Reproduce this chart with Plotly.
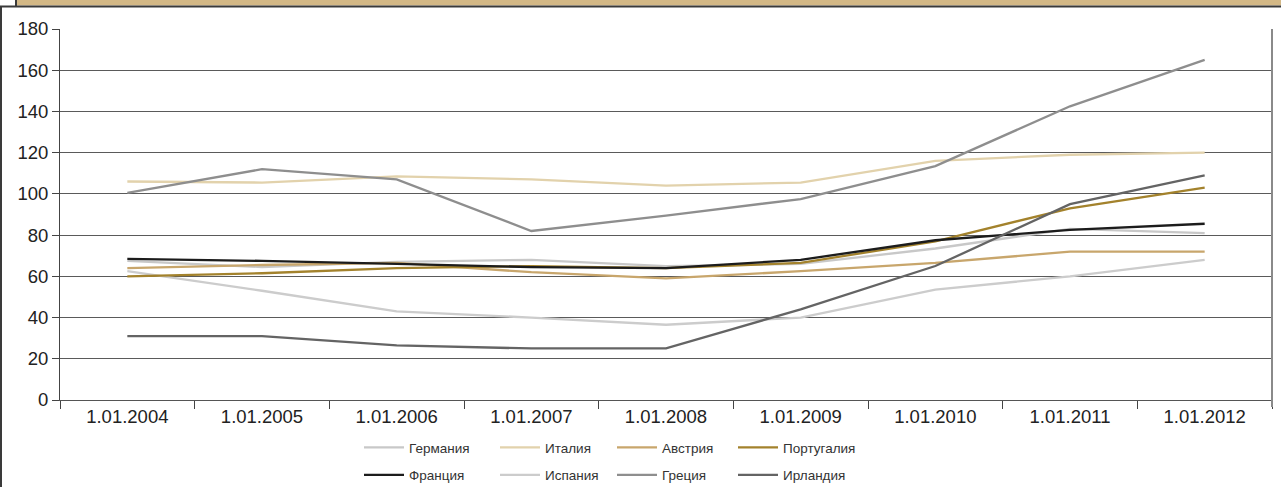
import plotly.graph_objects as go

# Dates on the category axis
dates = ["1.01.2004", "1.01.2005", "1.01.2006", "1.01.2007", "1.01.2008",
         "1.01.2009", "1.01.2010", "1.01.2011", "1.01.2012"]

# Government debt, % of GDP
germany = [67.5, 64.5, 67, 68, 65, 66, 73.5, 83, 81]
italy = [106, 105.5, 108.5, 107, 104, 105.5, 116, 119, 120]
austria = [64, 65.5, 66.5, 62, 59, 62.5, 66.5, 72, 72]
portugal = [60, 61.5, 64, 65, 64, 66.5, 77, 93, 103]
france = [68.5, 67.5, 66, 64.5, 64, 68, 77.5, 82.5, 85.5]
spain = [62.5, 53, 43, 40, 36.5, 40, 53.5, 60, 68]
greece = [100.5, 112, 107, 82, 89.5, 97.5, 113.5, 142.5, 165]
ireland = [31, 31, 26.5, 25, 25, 44, 65, 95, 109]

y_ticks = [0, 20, 40, 60, 80, 100, 120, 140, 160, 180]

# name, values, colour, legend column
series = [
    ("Германия", germany, "#c8c8c8", "legend"),
    ("Франция", france, "#1c1c1c", "legend"),
    ("Италия", italy, "#e2d2ac", "legend2"),
    ("Испания", spain, "#cccccc", "legend2"),
    ("Австрия", austria, "#c8a66c", "legend3"),
    ("Греция", greece, "#8e8e8e", "legend3"),
    ("Португалия", portugal, "#a3822c", "legend4"),
    ("Ирландия", ireland, "#646464", "legend4"),
]

# draw order: background series first, dark ones on top
draw_order = ["Испания", "Германия", "Италия", "Австрия", "Греция",
              "Португалия", "Франция", "Ирландия"]

fig = go.Figure()
lookup = {s[0]: s for s in series}
names = [s[0] for s in series]
for name in draw_order:
    _, vals, color, leg = lookup[name]
    fig.add_trace(go.Scatter(
        x=dates, y=vals, name=name, mode="lines",
        line=dict(color=color, width=2.3),
        legend=leg, legendgroup=name,
        legendrank=names.index(name),
    ))

W, H = 1281, 487
ML, MR, MT, MB = 60, 9, 29, 87
PW, PH = W - ML - MR, H - MT - MB


def px_x(px):
    return (px - ML) / PW


def px_y(py):
    return 1 - (py - MT) / PH


legend_common = dict(
    orientation="v", yanchor="top", xanchor="left",
    y=px_y(432), traceorder="grouped", tracegroupgap=7,
    font=dict(family="Liberation Sans, Arial, sans-serif", size=13.5, color="#333333"),
    bgcolor="rgba(0,0,0,0)", itemwidth=40,
)

shapes = [
    # tan header band
    dict(type="rect", xref="paper", yref="paper",
         x0=px_x(16), x1=px_x(1290), y0=px_y(-5), y1=px_y(5.5),
         fillcolor="#d3b886", line=dict(width=0), layer="below"),
    dict(type="line", xref="paper", yref="paper",
         x0=px_x(16), x1=px_x(16), y0=px_y(-5), y1=px_y(6),
         line=dict(color="#3a3a3a", width=2)),
    # frame top and left edges
    dict(type="line", xref="paper", yref="paper",
         x0=px_x(0), x1=px_x(1290), y0=px_y(6.5), y1=px_y(6.5),
         line=dict(color="#3a3a3a", width=2)),
    dict(type="line", xref="paper", yref="paper",
         x0=px_x(1), x1=px_x(1), y0=px_y(6), y1=px_y(495),
         line=dict(color="#3a3a3a", width=2)),
    # right edge of plot area
    dict(type="line", xref="paper", yref="paper",
         x0=1, x1=1, y0=px_y(407), y1=1,
         line=dict(color="#8a8a8a", width=2)),
]

fig.update_layout(
    width=W, height=H,
    margin=dict(l=ML, r=MR, t=MT, b=MB, pad=0, autoexpand=False),
    paper_bgcolor="white", plot_bgcolor="white",
    font=dict(family="Liberation Sans, Arial, sans-serif", color="#222222"),
    showlegend=True,
    legend=dict(legend_common, x=px_x(359)),
    legend2=dict(legend_common, x=px_x(495)),
    legend3=dict(legend_common, x=px_x(612)),
    legend4=dict(legend_common, x=px_x(733)),
    shapes=shapes,
    xaxis=dict(
        type="category", tickson="boundaries", ticks="outside", ticklen=8,
        tickcolor="#444444", showgrid=False, showline=True,
        linecolor="#555555", linewidth=1, zeroline=False,
        tickfont=dict(size=18.5, color="#222222"), range=[-0.5, 8.5],
    ),
    yaxis=dict(
        range=[0, 180], tickvals=y_ticks, ticks="outside", ticklen=7,
        tickcolor="#444444", showgrid=True, gridcolor="#5a5a5a", gridwidth=1,
        showline=True, linecolor="#444444", linewidth=1, zeroline=False,
        tickfont=dict(size=18.5, color="#222222"),
    ),
)

fig.write_html("out.html")
